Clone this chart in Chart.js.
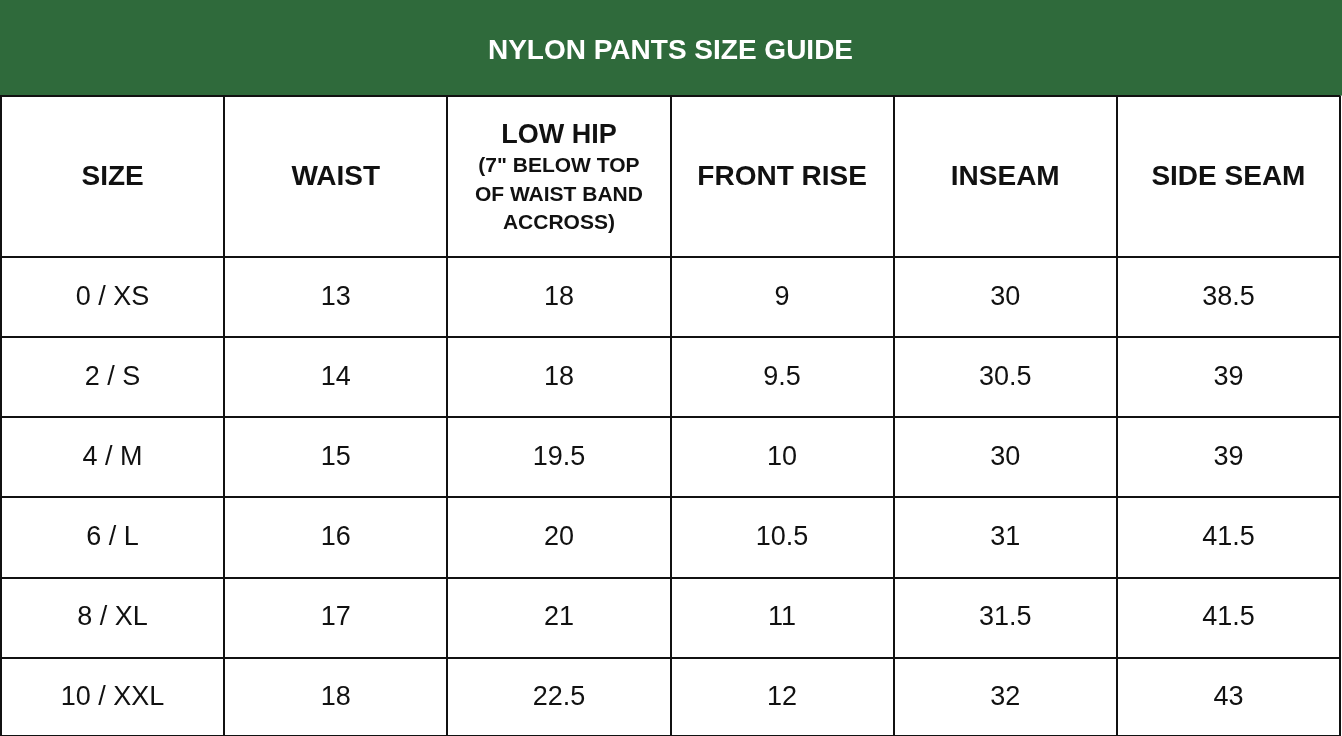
<!DOCTYPE html>
<html><head><meta charset="utf-8">
<script src="https://cdn.jsdelivr.net/npm/chart.js@4/dist/chart.umd.min.js"></script>
<style>html,body{margin:0;padding:0;background:#fff;font-family:"Liberation Sans",Arial,sans-serif}#wrap{width:1342px;height:736px}</style>
</head><body><div id="wrap"><canvas id="c"></canvas></div>
<script>
const title = "NYLON PANTS SIZE GUIDE";
const headers = ["SIZE","WAIST","LOW HIP","FRONT RISE","INSEAM","SIDE SEAM"];
const lowHipNote = ["(7\" BELOW TOP","OF WAIST BAND","ACCROSS)"];
const sizes = ["0 / XS","2 / S","4 / M","6 / L","8 / XL","10 / XXL"];
const waist = ["13","14","15","16","17","18"];
const lowHip = ["18","18","19.5","20","21","22.5"];
const frontRise = ["9","9.5","10","10.5","11","12"];
const inseam = ["30","30.5","30","31","31.5","32"];
const sideSeam = ["38.5","39","39","41.5","41.5","43"];
const columns = [sizes, waist, lowHip, frontRise, inseam, sideSeam];
const green = "#2f6a3b";
const FONT = '"Liberation Sans", Arial, sans-serif';

const tablePlugin = {
  id: 'table',
  beforeDraw(chart){
    const ctx = chart.ctx;
    ctx.save(); ctx.fillStyle = green;
    ctx.fillRect(0,0,chart.width,chart.chartArea.top); ctx.restore();
  },
  afterDraw(chart){
    const ctx = chart.ctx, x = chart.scales.x, y = chart.scales.y;
    ctx.save(); ctx.fillStyle = '#111'; ctx.textAlign='center'; ctx.textBaseline='middle';
    headers.forEach((h,i)=>{
      const cx = x.getPixelForValue(i+0.5);
      if (h === "LOW HIP") {
        ctx.font = 'bold 27px ' + FONT;
        ctx.fillText(h, cx, y.getPixelForValue(0.5));
        ctx.font = 'bold 21px ' + FONT;
        lowHipNote.forEach((t,k)=>ctx.fillText(t, cx, y.getPixelForValue(0.88+k*0.36)));
      } else {
        ctx.font = 'bold 28px ' + FONT;
        ctx.fillText(h, cx, y.getPixelForValue(1.02));
      }
    });
    ctx.font = '27px ' + FONT;
    columns.forEach((col,i)=>{
      col.forEach((v,r)=>ctx.fillText(v, x.getPixelForValue(i+0.5), y.getPixelForValue(2.52+r)));
    });
    ctx.restore();
  }
};

function make(){
new Chart(document.getElementById('c'), {
  type: 'scatter',
  data: { datasets: [{ data: [] }] },
  options: {
    responsive: true, maintainAspectRatio: false, animation: false,
    layout: { padding: { left: 1, right: 2, bottom: 0, top: 0 } },
    plugins: {
      legend: { display: false }, tooltip: { enabled: false },
      title: { display: true, text: title, color: '#fff',
        font: { family: FONT, size: 28, weight: 'bold' },
        padding: { top: 34, bottom: 28 } },
    },
    scales: {
      x: { type: 'linear', min: 0, max: 6, ticks: { display: false, stepSize: 1 },
        grid: { color: '#111', lineWidth: 2, drawTicks: false },
        border: { color: '#111', width: 2 } },
      y: { type: 'linear', min: 0, max: 8, reverse: true, ticks: { display: false },
        afterBuildTicks: s => { s.ticks = [0,2.02,3.02,4.02,5.02,6.02,7.02,8].map(v=>({value:v})); },
        grid: { color: '#111', lineWidth: 2, drawTicks: false },
        border: { color: '#111', width: 2 } }
    }
  },
  plugins: [tablePlugin]
});
}
Promise.all([
  document.fonts.load('27px "Liberation Sans"'),
  document.fonts.load('bold 28px "Liberation Sans"')
]).then(make, make);
</script></body></html>
